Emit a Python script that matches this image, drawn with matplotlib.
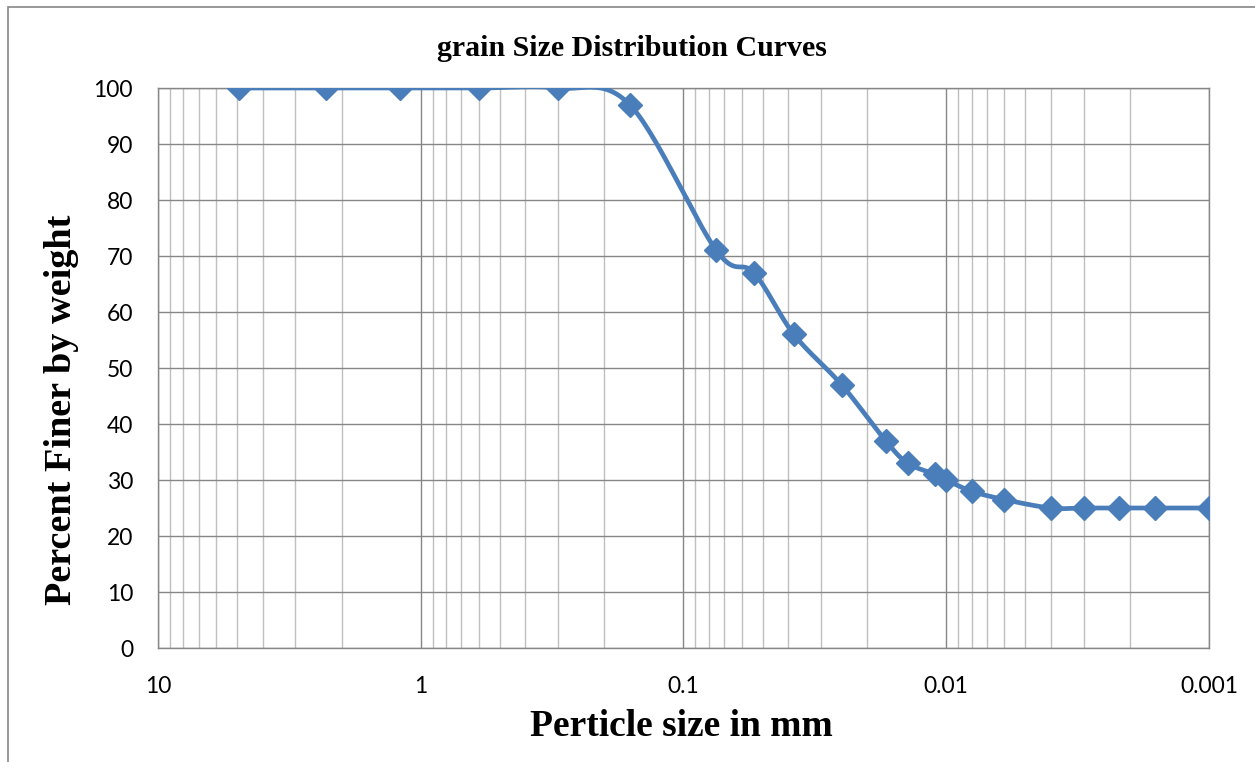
import numpy as np
import matplotlib.pyplot as plt
from matplotlib.ticker import LogLocator, FixedLocator, NullFormatter
from matplotlib.patches import Rectangle

# grain size data (mm) and percent finer
size_mm = [4.9, 2.3, 1.2, 0.6, 0.3, 0.16, 0.075, 0.054, 0.038, 0.025, 0.017,
           0.014, 0.011, 0.010, 0.008, 0.006, 0.004, 0.003, 0.0022, 0.0016, 0.001]
finer = [100, 100, 100, 100, 100, 97, 71, 67, 56, 47, 37,
         33, 31, 30, 28, 26.5, 25, 25, 25, 25, 25]
x_ticks = [10, 1, 0.1, 0.01, 0.001]
x_tick_labels = ['10', '1', '0.1', '0.01', '0.001']

blue = '#4a7ebb'


def smooth(xs, ys, n=30):
    # catmull-rom through the points, done in log-x space (like Excel smoothed line)
    lx = np.log10(xs)
    ys = np.asarray(ys, float)
    P = np.column_stack([lx, ys])
    P = np.vstack([2 * P[0] - P[1], P, 2 * P[-1] - P[-2]])
    out = []
    t = np.linspace(0, 1, n)[:, None]
    for i in range(1, len(P) - 2):
        p0, p1, p2, p3 = P[i - 1], P[i], P[i + 1], P[i + 2]
        seg = 0.5 * ((2 * p1) + (-p0 + p2) * t + (2 * p0 - 5 * p1 + 4 * p2 - p3) * t ** 2
                     + (-p0 + 3 * p1 - 3 * p2 + p3) * t ** 3)
        out.append(seg)
    out = np.vstack(out)
    return 10 ** out[:, 0], out[:, 1]


fig = plt.figure(figsize=(12.55, 7.62), dpi=100)
ax = fig.add_axes([0.1259, 0.1496, 0.8374, 0.7349])

sx, sy = smooth(size_mm, finer)
ax.plot(sx, sy, color=blue, lw=3.4, solid_capstyle='round', zorder=3)
ax.plot(size_mm, finer, linestyle='none', marker='D', ms=12, color=blue, zorder=4)

ax.set_xscale('log')
ax.set_xlim(10, 0.001)
ax.set_ylim(0, 100)
ax.set_yticks(range(0, 101, 10))
ax.xaxis.set_major_locator(FixedLocator(x_ticks))
ax.set_xticklabels(x_tick_labels)
ax.xaxis.set_minor_locator(LogLocator(base=10, subs=np.arange(2, 10)))
ax.xaxis.set_minor_formatter(NullFormatter())

ax.grid(True, which='major', color='#868686', lw=1.0)
ax.grid(True, which='minor', axis='x', color='#bfbfbf', lw=1.0)
ax.set_axisbelow(True)
for s in ax.spines.values():
    s.set_color('#868686')
    s.set_linewidth(1.0)

ax.tick_params(which='both', length=0)
ax.tick_params(axis='y', pad=18, labelsize=16.5)
ax.tick_params(axis='x', pad=20, labelsize=16.5)
for lab in ax.get_xticklabels() + ax.get_yticklabels():
    lab.set_fontfamily('Lato')

fig.text(632 / 1255, 1 - 49 / 762, 'grain Size Distribution Curves', fontfamily='Liberation Serif',
         fontweight='bold', fontsize=21.5, ha='center', va='center')
fig.text(681 / 1255, 1 - 727 / 762, 'Perticle size in mm', fontfamily='Liberation Serif',
         fontweight='bold', fontsize=27, ha='center', va='center')
fig.text(62 / 1255, 1 - 410 / 762, 'Percent Finer by weight', fontfamily='Liberation Serif',
         fontweight='bold', fontsize=27.5, ha='center', va='center', rotation=90)

# chart frame
fig.patches.append(Rectangle((8 / 1255, -0.1), 1.2, 1.1 - 7 / 762, transform=fig.transFigure,
                             fill=False, edgecolor='#868686', lw=1.2))

plt.savefig('out.png', dpi=100)
